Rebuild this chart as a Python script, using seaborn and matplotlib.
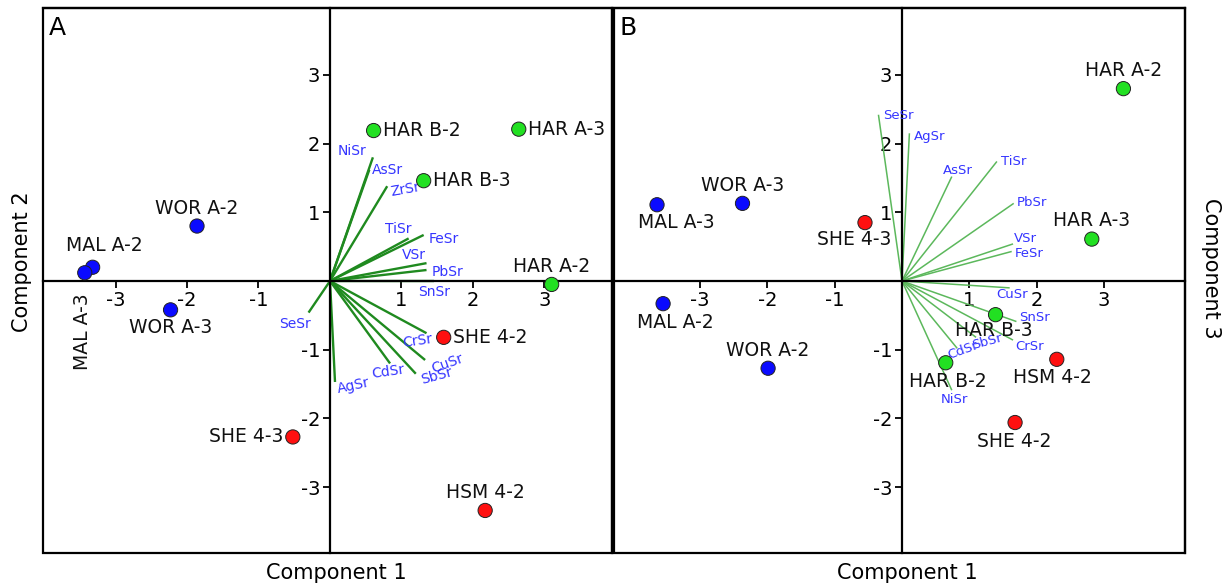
import matplotlib
matplotlib.use("Agg")
import matplotlib.pyplot as plt
from matplotlib.patches import Rectangle
import seaborn as sns
import pandas as pd

# ---- data: sample scores ----
samples_a = ['HAR B-2', 'HAR B-3', 'HAR A-3', 'HAR A-2', 'SHE 4-2', 'HSM 4-2',
             'SHE 4-3', 'WOR A-2', 'WOR A-3', 'MAL A-2', 'MAL A-3']
comp1_a = [0.61, 1.31, 2.64, 3.10, 1.59, 2.17, -0.52, -1.86, -2.23, -3.32, -3.43]
comp2_a = [2.19, 1.46, 2.21, -0.05, -0.82, -3.34, -2.27, 0.80, -0.42, 0.20, 0.12]

samples_b = ['HAR A-2', 'HAR A-3', 'HSM 4-2', 'HAR B-3', 'HAR B-2', 'SHE 4-2',
             'MAL A-3', 'WOR A-3', 'SHE 4-3', 'MAL A-2', 'WOR A-2']
comp1_b = [3.29, 2.82, 2.30, 1.39, 0.65, 1.68, -3.64, -2.37, -0.55, -3.55, -1.99]
comp3_b = [2.80, 0.61, -1.14, -0.49, -1.19, -2.06, 1.11, 1.13, 0.85, -0.33, -1.27]

# ---- data: element loadings ----
vars_a = ['NiSr', 'AsSr', 'ZrSr', 'TiSr', 'FeSr', 'VSr', 'PbSr', 'SnSr',
          'SeSr', 'CrSr', 'CuSr', 'SbSr', 'CdSr', 'AgSr']
load1_a = [0.60, 0.55, 0.80, 1.10, 1.31, 1.35, 1.35, 1.45, -0.30, 1.35, 1.33, 1.20, 0.84, 0.07]
load2_a = [1.80, 1.62, 1.38, 0.62, 0.67, 0.26, 0.16, 0.00, -0.46, -0.76, -1.15, -1.35, -1.20, -1.47]

vars_b = ['SeSr', 'AgSr', 'AsSr', 'TiSr', 'PbSr', 'VSr', 'FeSr', 'CuSr',
          'SnSr', 'CrSr', 'SbSr', 'CdSr', 'NiSr']
load1_b = [-0.35, 0.11, 0.74, 1.41, 1.66, 1.65, 1.63, 1.60, 1.70, 1.65, 1.10, 0.82, 0.74]
load3_b = [2.42, 2.15, 1.52, 1.74, 1.13, 0.54, 0.43, -0.10, -0.59, -0.86, -0.82, -0.98, -1.59]

ticks = [-3, -2, -1, 1, 2, 3]

# ---- styling ----
site_colors = {'HAR': '#22e022', 'SHE': '#ff1010', 'HSM': '#ff1010',
               'WOR': '#0a0aff', 'MAL': '#0a0aff'}

# label offsets in pixels (dx, dy, ha, rotation)
sample_offsets_a = {
    'HAR B-2': (9, 0, 'left', 0), 'HAR B-3': (9, 0, 'left', 0),
    'HAR A-3': (9, 0, 'left', 0), 'SHE 4-2': (9, 0, 'left', 0),
    'HAR A-2': (0, 18, 'center', 0), 'HSM 4-2': (0, 18, 'center', 0),
    'SHE 4-3': (-9, 0, 'right', 0), 'WOR A-2': (0, 18, 'center', 0),
    'WOR A-3': (0, -18, 'center', 0), 'MAL A-2': (12, 22, 'center', 0),
    'MAL A-3': (-2, -59, 'center', 90),
}
sample_offsets_b = {
    'HAR A-2': (0, 18, 'center', 0), 'HAR A-3': (0, 19, 'center', 0),
    'HSM 4-2': (-4, -18, 'center', 0), 'HAR B-3': (-2, -16, 'center', 0),
    'HAR B-2': (2, -19, 'center', 0), 'SHE 4-2': (-1, -19, 'center', 0),
    'MAL A-3': (19, -18, 'center', 0), 'WOR A-3': (0, 18, 'center', 0),
    'SHE 4-3': (-11, -17, 'center', 0), 'MAL A-2': (12, -19, 'center', 0),
    'WOR A-2': (0, 18, 'center', 0),
}
var_offsets_a = {
    'NiSr': (-21, 6, 0), 'AsSr': (18, 0, 0), 'ZrSr': (18, -3, 10),
    'TiSr': (-10, 9, 0), 'FeSr': (20, -4, 0), 'VSr': (-13, 8, 0),
    'PbSr': (21, -2, 0), 'SnSr': (0, -11, 0), 'SeSr': (-14, -11, 0),
    'CrSr': (-9, -8, 8), 'CuSr': (22, -4, 20), 'SbSr': (21, -2, 15),
    'CdSr': (-2, -8, 8), 'AgSr': (19, -4, 12),
}
var_offsets_b = {
    'SeSr': (20, -1, 0), 'AgSr': (20, -3, 0), 'AsSr': (6, 6, 0),
    'TiSr': (17, 0, 0), 'PbSr': (18, 1, 0), 'VSr': (12, 5, 0),
    'FeSr': (17, -2, 0), 'CuSr': (2, -7, 0), 'SnSr': (18, 4, 0),
    'CrSr': (17, -6, 0), 'SbSr': (11, -4, 15), 'CdSr': (6, -2, 20),
    'NiSr': (3, -9, 0),
}

sns.set_style("white")
plt.rcParams['font.family'] = ['DejaVu Sans']
plt.rcParams['axes.unicode_minus'] = False
plt.rcParams['text.color'] = 'black'
plt.rcParams['xtick.color'] = 'black'
plt.rcParams['ytick.color'] = 'black'

W, H = 1225, 588
fig = plt.figure(figsize=(W / 100, H / 100), dpi=100)
axA = fig.add_axes([43 / W, 1 - 553 / H, (612 - 43) / W, (553 - 8) / H])
axB = fig.add_axes([614 / W, 1 - 553 / H, (1185 - 614) / W, (553 - 8) / H])

PX = 0.72  # points per pixel at 100 dpi


def draw_panel(ax, names, xs, ys, s_off, vnames, vx, vy, v_off, line_color, line_w, vfs):
    df = pd.DataFrame({'x': xs, 'y': ys, 'sample': names})
    df['site'] = df['sample'].str.split().str[0]
    # loadings
    for name, lx, ly in zip(vnames, vx, vy):
        ax.plot([0, lx], [0, ly], color=line_color, lw=line_w, zorder=2, solid_capstyle='butt')
        dx, dy, rot = v_off[name]
        ax.annotate(name, (lx, ly), xytext=(dx * PX, dy * PX), textcoords='offset points',
                    ha='center', va='center', rotation=rot, fontsize=vfs,
                    color='#3535ff', zorder=4)
    # scores
    sns.scatterplot(data=df, x='x', y='y', hue='site', palette=site_colors, s=105,
                    edgecolor='#222222', linewidth=0.7, legend=False, ax=ax, zorder=5)
    for _, r in df.iterrows():
        dx, dy, ha, rot = s_off[r['sample']]
        ax.annotate(r['sample'], (r['x'], r['y']), xytext=(dx * PX, dy * PX),
                    textcoords='offset points', ha=ha, va='center', rotation=rot,
                    fontsize=13.5, color='#111111', zorder=6)

    # axes through the origin plus an outer frame
    for side in ['left', 'bottom']:
        ax.spines[side].set_position(('data', 0))
    for side in ax.spines:
        ax.spines[side].set_linewidth(1.6)
        ax.spines[side].set_color('black')
    ax.add_patch(Rectangle((0, 0), 1, 1, transform=ax.transAxes, fill=False,
                           lw=1.6, edgecolor='black', clip_on=False, zorder=3))
    ax.set_xticks(ticks)
    ax.set_yticks(ticks)
    ax.tick_params(direction='out', length=5, width=1.3, labelsize=14, pad=2,
                   bottom=True, left=True, colors='black')
    ax.set_xlabel('')
    ax.set_ylabel('')


draw_panel(axA, samples_a, comp1_a, comp2_a, sample_offsets_a,
           vars_a, load1_a, load2_a, var_offsets_a, '#1f8a1f', 1.7, 10)
axA.set_xlim((43 - 330) / 71.5, (612 - 330) / 71.5)
axA.set_ylim((281 - 553) / 68.7, (281 - 8) / 68.7)

draw_panel(axB, samples_b, comp1_b, comp3_b, sample_offsets_b,
           vars_b, load1_b, load3_b, var_offsets_b, '#5cb85c', 1.1, 9.5)
axB.set_xlim((614 - 902) / 67.3, (1185 - 902) / 67.3)
axB.set_ylim((281 - 553) / 68.7, (281 - 8) / 68.7)

# panel letters
axA.text(0.01, 0.985, 'A', transform=axA.transAxes, ha='left', va='top', fontsize=18)
axB.text(0.01, 0.985, 'B', transform=axB.transAxes, ha='left', va='top', fontsize=18)

# axis titles
fig.text(336 / W, 1 - 573 / H, 'Component 1', ha='center', va='center', fontsize=15)
fig.text(907 / W, 1 - 573 / H, 'Component 1', ha='center', va='center', fontsize=15)
fig.text(22 / W, 1 - 262 / H, 'Component 2', ha='center', va='center', rotation=90, fontsize=15)
fig.text(1211 / W, 1 - 268 / H, 'Component 3', ha='center', va='center', rotation=-90, fontsize=15)

fig.savefig('out.png', dpi=100)
